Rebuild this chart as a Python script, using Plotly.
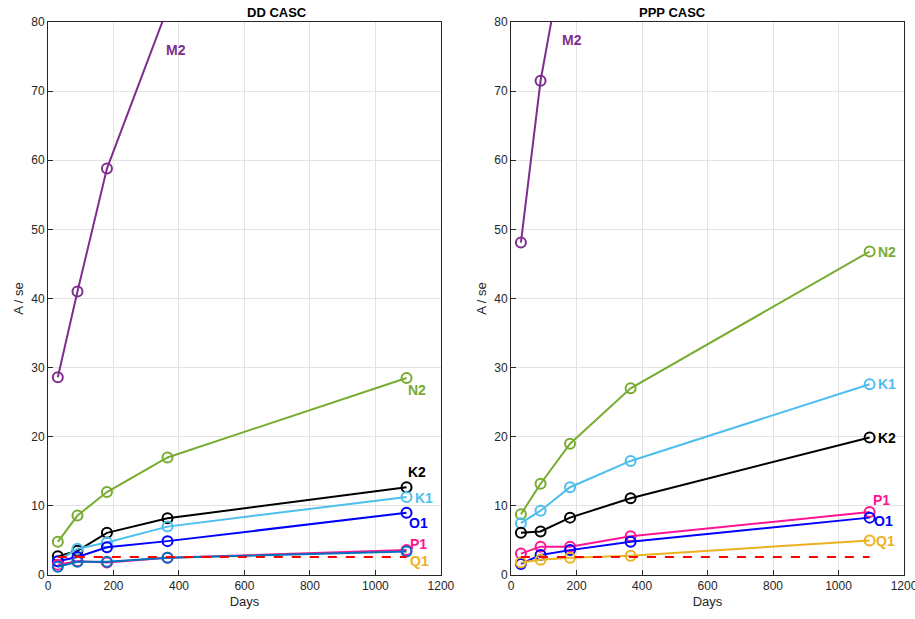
import plotly.graph_objects as go
from plotly.subplots import make_subplots

days = [30, 90, 180, 365, 1095]

dd = {
    "M2": [28.6, 41.0, 58.8, 82.0, 150.0],
    "N2": [4.8, 8.6, 12.0, 17.0, 28.5],
    "K2": [2.7, 3.5, 6.1, 8.2, 12.7],
    "K1": [2.0, 3.8, 4.7, 7.0, 11.3],
    "O1": [2.0, 2.6, 4.0, 4.9, 9.0],
    "P1": [1.5, 2.0, 1.8, 2.5, 3.6],
    "Q1": [1.2, 1.9, 1.9, 2.5, 3.4],
}
ppp = {
    "M2": [48.1, 71.5, 95.0, 130.0, 250.0],
    "N2": [8.8, 13.2, 19.0, 27.0, 46.8],
    "K1": [7.5, 9.3, 12.7, 16.5, 27.6],
    "K2": [6.1, 6.3, 8.3, 11.1, 19.9],
    "P1": [3.1, 4.1, 4.1, 5.6, 9.1],
    "O1": [1.6, 2.9, 3.6, 4.8, 8.3],
    "Q1": [1.8, 2.2, 2.5, 2.8, 5.0],
}
threshold_x = [30, 1095]
threshold_y = [2.6, 2.6]

colors = {"M2": "#7E2F8E", "N2": "#77AC30", "K2": "#000000", "K1": "#4DBEEE",
          "O1": "#0000FF", "P1": "#FF1493", "Q1": "#EDB120"}
dd_line_colors = dict(colors, Q1="#0072BD")

# label positions (data coords)
dd_labels = {"M2": (355, 76.0), "N2": (1092, 26.8), "K2": (1092, 14.9), "K1": (1115, 11.1),
             "O1": (1095, 7.5), "P1": (1100, 4.5), "Q1": (1100, 2.0)}
ppp_labels = {"M2": (150, 77.4), "N2": (1113, 46.7), "K1": (1113, 27.6), "K2": (1113, 19.8),
              "P1": (1100, 10.8), "O1": (1103, 7.8), "Q1": (1108, 4.9)}

fig = make_subplots(rows=1, cols=2, horizontal_spacing=0.082)

def add_panel(data, lcolors, labels, col):
    xref = "x" if col == 1 else "x2"
    yref = "y" if col == 1 else "y2"
    for name, vals in data.items():
        fig.add_trace(go.Scatter(x=days, y=vals, mode="lines+markers",
                                 line=dict(color=lcolors[name], width=2),
                                 marker=dict(symbol="circle-open", size=10, color=lcolors[name],
                                             line=dict(width=2, color=lcolors[name])),
                                 showlegend=False, cliponaxis=True), row=1, col=col)
    fig.add_trace(go.Scatter(x=threshold_x, y=threshold_y, mode="lines",
                             line=dict(color="#FF0000", width=2, dash="dash"),
                             showlegend=False), row=1, col=col)
    for name, (lx, ly) in labels.items():
        fig.add_annotation(x=lx, y=ly, xref=xref, yref=yref, text="<b>%s</b>" % name,
                           showarrow=False, xanchor="left", yanchor="middle",
                           font=dict(size=14, color=colors[name], family="Liberation Sans, Arial"))

add_panel(dd, dd_line_colors, dd_labels, 1)
add_panel(ppp, colors, ppp_labels, 2)

axis_common = dict(showline=True, linecolor="#262626", linewidth=1, mirror=True,
                   ticks="inside", ticklen=5, tickcolor="#262626",
                   showgrid=True, gridcolor="#E3E3E3", zeroline=False, automargin=False,
                   ticklabeloverflow="allow",
                   tickfont=dict(size=12, color="#262626"))
for c in (1, 2):
    fig.update_xaxes(range=[0, 1200], dtick=200, title=dict(text="Days", standoff=4,
                     font=dict(size=13, color="#262626")), row=1, col=c, **axis_common)
    fig.update_yaxes(range=[0, 80], dtick=10, title=dict(text="A / se", standoff=4,
                     font=dict(size=13, color="#262626")), row=1, col=c, **axis_common)

fig.add_annotation(x=0.23, y=1.0, xref="paper", yref="paper", text="<b>DD CASC</b>",
                   showarrow=False, yanchor="bottom", font=dict(size=13, color="#000"))
fig.add_annotation(x=0.771, y=1.0, xref="paper", yref="paper", text="<b>PPP CASC</b>",
                   showarrow=False, yanchor="bottom", font=dict(size=13, color="#000"))

fig.update_layout(width=915, height=619, margin=dict(l=48, r=11, t=22, b=44),
                  plot_bgcolor="white", paper_bgcolor="white",
                  font=dict(family="Liberation Sans, Arial, sans-serif", color="#262626"))

fig.write_html("out.html")
